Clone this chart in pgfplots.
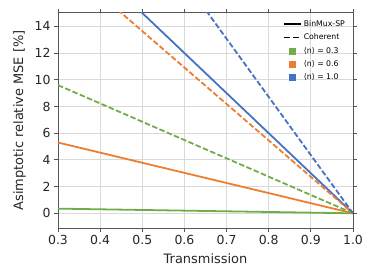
\documentclass[border=0pt]{standalone}
\usepackage{pgfplots}
\pgfplotsset{compat=1.18}
\usepackage{fontspec}
\setmainfont{DejaVu Sans}
\definecolor{cg}{HTML}{70AD47}
\definecolor{co}{HTML}{ED7D31}
\definecolor{cb}{HTML}{4472C4}
\definecolor{spine}{HTML}{555555}
\begin{document}
\begin{tikzpicture}
\path[use as bounding box] (-58bp,-52bp) rectangle (316bp,228bp);
\begin{axis}[
  scale only axis, width=295bp, height=215bp,
  xmin=0.3, xmax=1.0, ymin=-1.1, ymax=15,
  xtick={0.3,0.4,...,1.0},
  ytick={0,2,...,14},
  xticklabel style={/pgf/number format/.cd, fixed, fixed zerofill, precision=1},
  /pgf/number format/assume math mode=true,
  ticklabel style={font=\fontsize{12.5}{14}\selectfont, color=black!85},
  tick align=outside, tick style={spine, line width=0.9pt}, major tick length=4bp,
  axis line style={spine, line width=1pt},
  grid=major, grid style={gray!30, line width=0.9pt},
  xlabel={Transmission}, ylabel={Asimptotic relative MSE [\%]},
  label style={font=\fontsize{13}{15}\selectfont, color=black!85},
  xlabel style={yshift=-2bp},
  ylabel style={yshift=2bp},
  legend style={at={(0.99,0.985)}, anchor=north east, draw=none, fill=none,
    font=\fontsize{7.8}{9}\selectfont, row sep=2pt, cells={anchor=west}},
  legend cell align=left,
]
\addlegendimage{black, line width=1.8pt}
\addlegendentry{BinMux-SP}
\addlegendimage{black, dash pattern=on 6.5bp off 2.5bp, line width=1.8pt}
\addlegendentry{Coherent}
\addlegendimage{only marks, mark=square*, mark size=3bp, color=cg}
\addlegendentry{⟨n⟩ = 0.3}
\addlegendimage{only marks, mark=square*, mark size=3bp, color=co}
\addlegendentry{⟨n⟩ = 0.6}
\addlegendimage{only marks, mark=square*, mark size=3bp, color=cb}
\addlegendentry{⟨n⟩ = 1.0}
% BinMux-SP
\addplot[cg, line width=1.8pt, forget plot] coordinates {(0.3,0.35) (1.0,0)};
\addplot[co, line width=1.8pt, forget plot] coordinates {(0.3,5.3) (1.0,0)};
\addplot[cb, line width=1.8pt, forget plot] coordinates {(0.3,21.0) (1.0,0)};
% Coherent
\addplot[cg, dash pattern=on 5.5bp off 2.4bp, line width=1.8pt, forget plot] coordinates {(0.3,9.6) (1.0,0)};
\addplot[co, dash pattern=on 5.5bp off 2.4bp, line width=1.8pt, forget plot] coordinates {(0.3,19.1) (1.0,0)};
\addplot[cb, dash pattern=on 5.5bp off 2.4bp, line width=1.8pt, forget plot] coordinates {(0.3,30.5) (1.0,0)};
\end{axis}
\end{tikzpicture}
\end{document}
